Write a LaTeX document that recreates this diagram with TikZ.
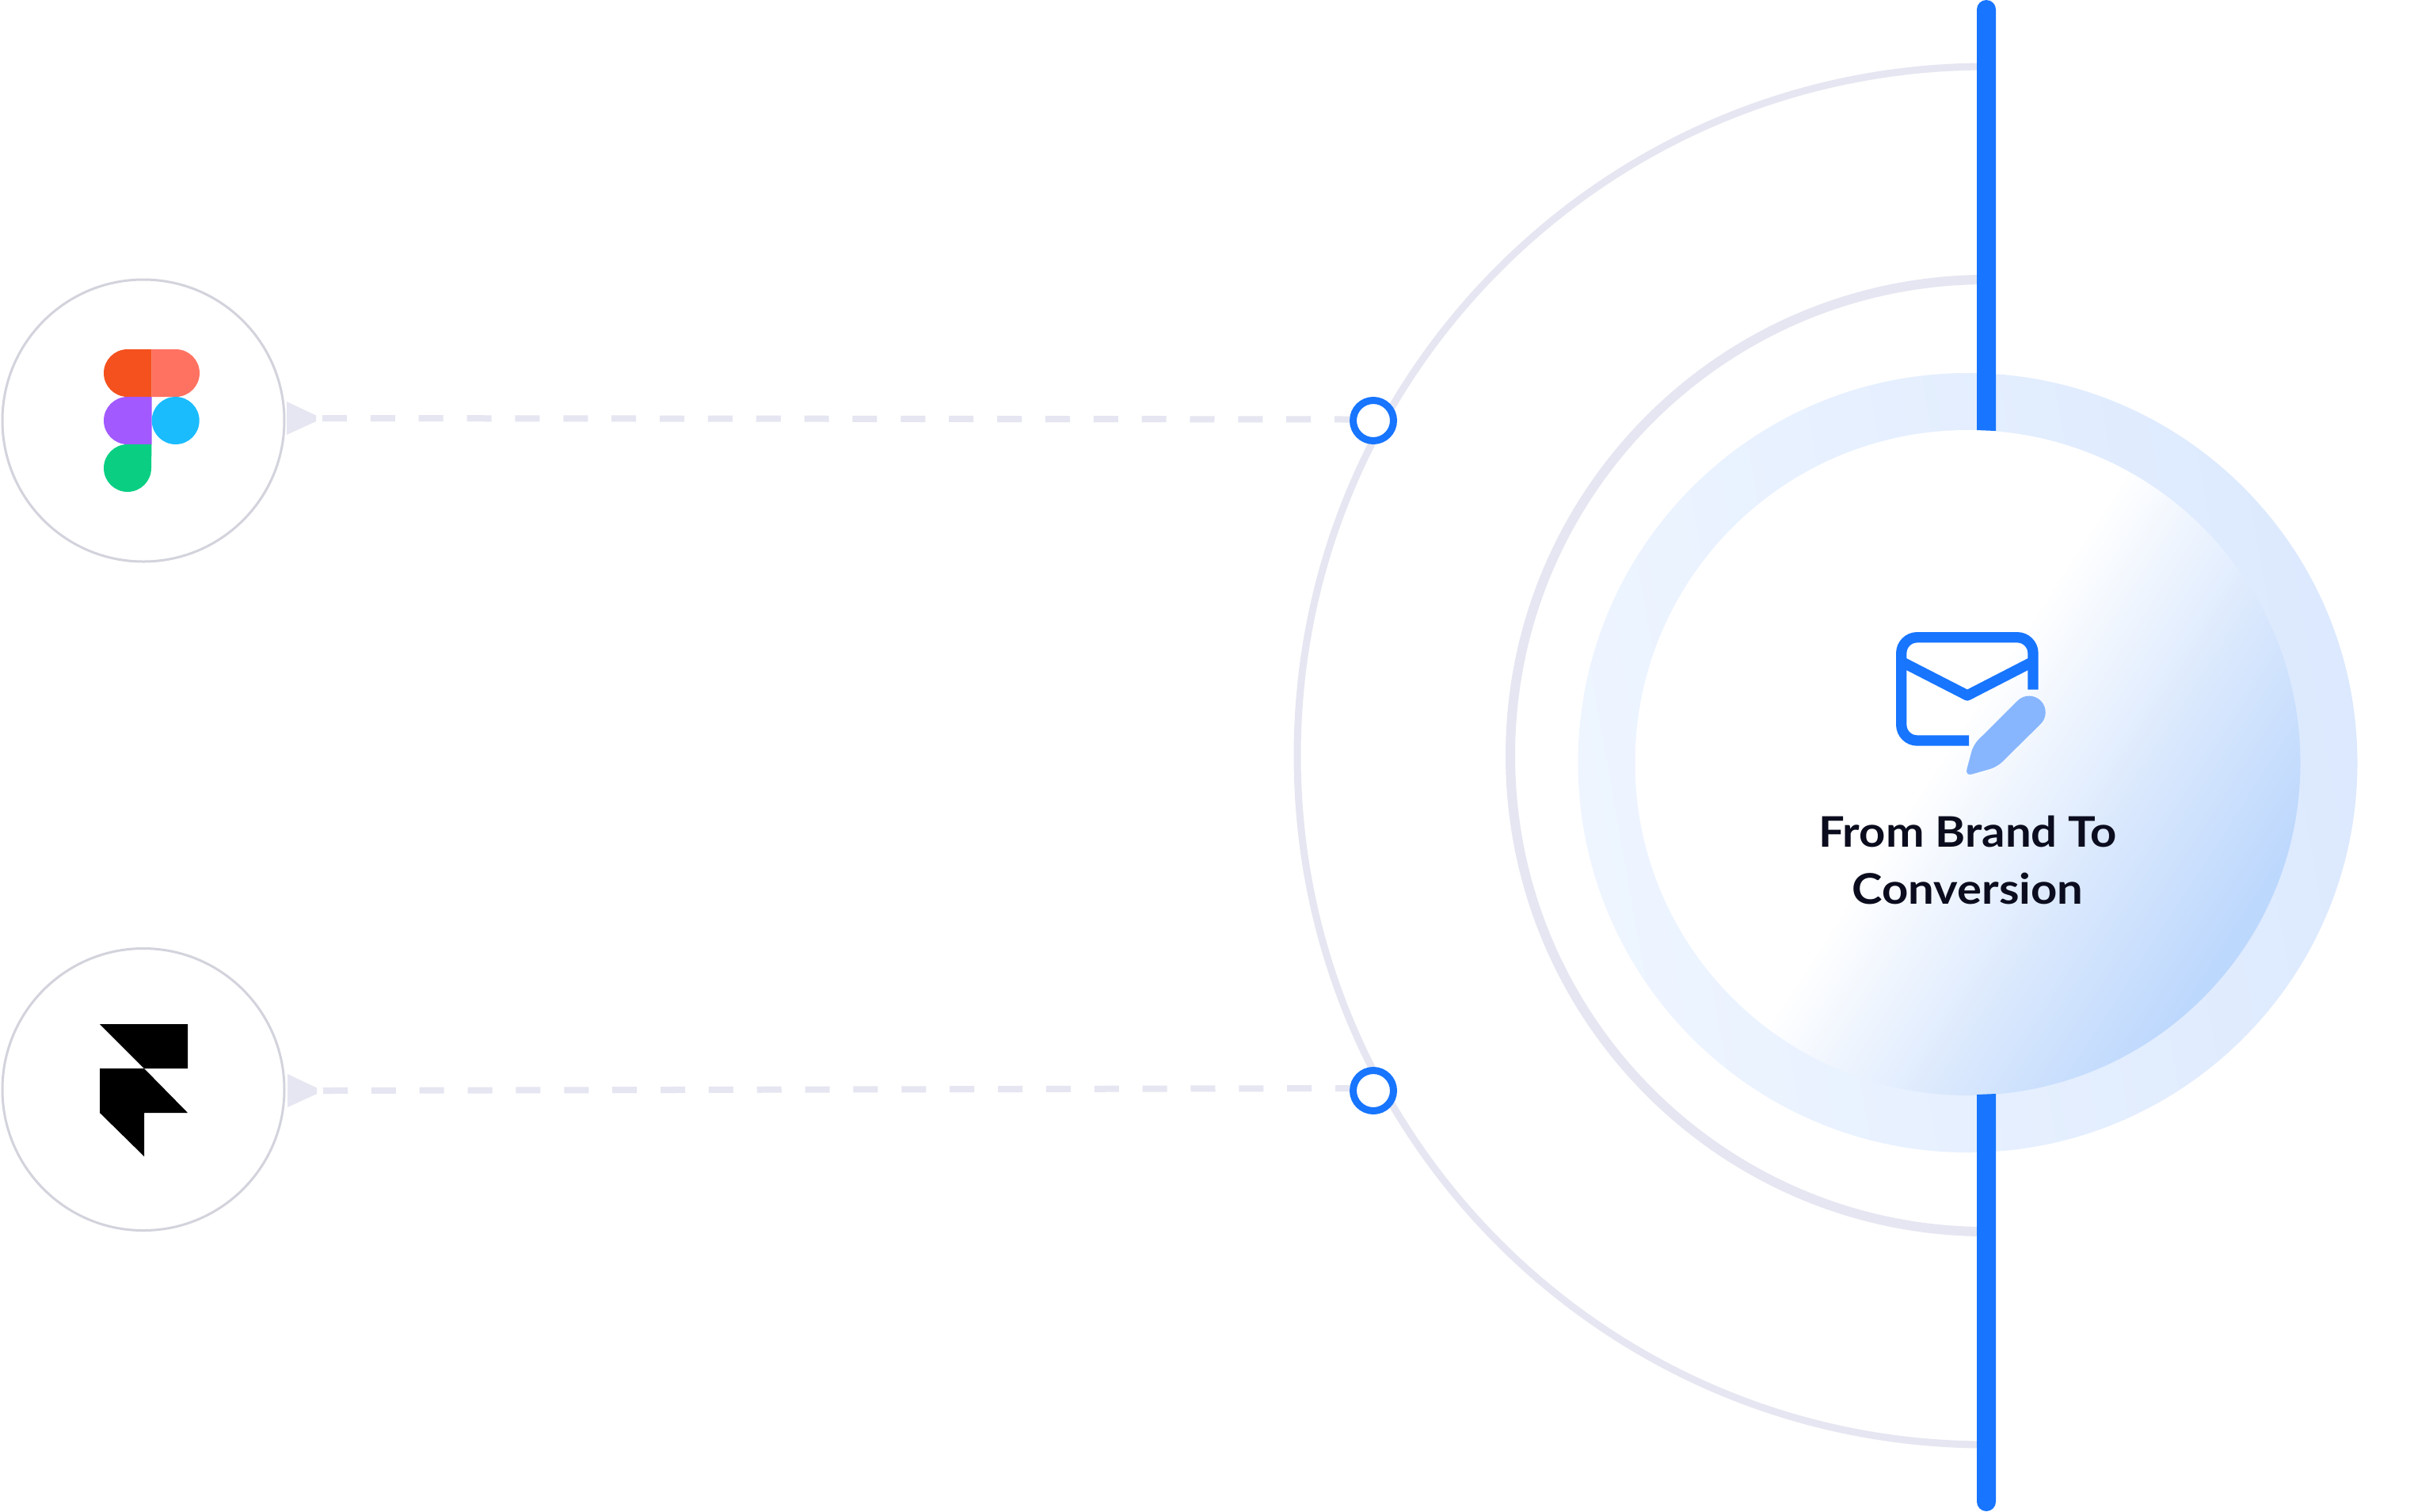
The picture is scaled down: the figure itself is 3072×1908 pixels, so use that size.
\documentclass[tikz,border=0pt]{standalone}
\usepackage{fontspec}
\setmainfont{Lato}[BoldFont={Lato Bold},BoldFeatures={FakeStretch=1.09}]
\definecolor{barblue}{HTML}{1775FF}
\definecolor{paleline}{HTML}{E5E6F1}
\definecolor{circleline}{HTML}{D2D3DC}
\definecolor{penblue}{HTML}{87B6FE}
\definecolor{inktext}{HTML}{0B0D1E}
\definecolor{figorange}{HTML}{F4511E}
\definecolor{figcoral}{HTML}{FF7262}
\definecolor{figpurple}{HTML}{A259FF}
\definecolor{figblue}{HTML}{1ABCFE}
\definecolor{figgreen}{HTML}{0ACF83}
\definecolor{ringa}{HTML}{EEF5FF}
\definecolor{ringb}{HTML}{DCE9FE}
\definecolor{glowa}{HTML}{D8E7FD}
\definecolor{glowb}{HTML}{BDD8FD}
\pgfdeclarehorizontalshading{ringshade}{100bp}{color(0bp)=(ringa); color(25bp)=(ringa); color(75bp)=(ringb); color(100bp)=(ringb)}
\pgfdeclarehorizontalshading{coreshade}{100bp}{color(0bp)=(white); color(48bp)=(white); color(62.7bp)=(glowa); color(74bp)=(glowb); color(100bp)=(glowb)}
\tikzset{
  toolcircle/.style={circle,draw=circleline,line width=1.5pt,fill=white,minimum size=178pt,inner sep=0pt,outer sep=0pt},
  bluering/.style={circle,draw=barblue,line width=4.5pt,fill=white,minimum size=25.5pt,inner sep=0pt,outer sep=0pt},
  conn/.style={draw=paleline,line width=4pt,dash pattern=on 15.5pt off 14.93pt,shorten >=2.25pt},
  halfarc/.style={draw=paleline},
  tiptri/.style={fill=paleline},
}
\begin{document}
\begin{tikzpicture}[x=0.5pt,y=-0.5pt]
\useasboundingbox (0,0) rectangle (3072,1908);
\fill[white] (0,0) rectangle (3072,1908);
% half circles
\draw[halfarc,line width=4.5pt] (2508,84) arc[start angle=-90,end angle=-270,radius=870];
\draw[halfarc,line width=6pt] (2508,353) arc[start angle=-90,end angle=-270,radius=601];
% central discs
\node[circle,minimum size=492pt,inner sep=0pt,outer sep=0pt,shading=ringshade,shading angle=10] (halo) at (2484.5,963) {};
\node[circle,minimum size=420pt,inner sep=0pt,outer sep=0pt,shading=coreshade,shading angle=-33] (core) at (2484.5,963) {};
% vertical bars
\fill[barblue] (2496,543) -- (2496,12) arc[start angle=-180,end angle=0,radius=12] -- (2520,544) -- cycle;
\fill[barblue] (2496,1382) -- (2496,1896) arc[start angle=180,end angle=0,radius=12] -- (2520,1381) -- cycle;
% tool circles
\node[toolcircle] (figma) at (181,531) {};
\node[toolcircle] (framer) at (181,1375.5) {};
% blue rings and connectors
\coordinate (starta) at (407,528);
\coordinate (startb) at (408,1377);
\node[bluering] (nodea) at (1734,531) {};
\node[bluering] (nodeb) at (1734,1377) {};
\draw[conn] (starta) -- ([yshift=0.75pt]nodea.west);
\draw[conn] (startb) -- ([yshift=1.5pt]nodeb.west);
% arrow triangles
\fill[tiptri] (362,507) -- (399,524.5) -- (399,532) -- (362,549) -- cycle;
\fill[tiptri] (363,1356) -- (400,1373.5) -- (400,1381) -- (363,1398) -- cycle;
% figma logo
\fill[figorange] (191.5,441) -- (161,441) arc[start angle=-90,end angle=-270,radius=30] -- (191.5,501) -- cycle;
\fill[figcoral] (191.5,441) -- (222,441) arc[start angle=-90,end angle=90,radius=30] -- (191.5,501) -- cycle;
\fill[figpurple] (191.5,501) -- (161,501) arc[start angle=-90,end angle=-270,radius=30] -- (191.5,561) -- cycle;
\fill[figblue] (221.7,531) circle[radius=30];
\fill[figgreen] (191.5,561) -- (161,561) arc[start angle=-90,end angle=-270,radius=30] -- (161,621) arc[start angle=90,end angle=0,radius=30] -- cycle;
% framer logo
\fill[black] (126,1293) -- (237,1293) -- (237,1349) -- (182,1349) -- cycle;
\fill[black] (126,1349) -- (182,1349) -- (237,1405) -- (182,1405) -- (182,1460) -- (126,1405) -- cycle;
% envelope
\draw[barblue,line width=6.65pt,rounded corners=10pt] (2486,935) -- (2400.7,935) -- (2400.7,804.7) -- (2567,804.7) -- (2567,870.7);
\draw[barblue,line width=6.65pt,line join=round] (2400.7,835.3) -- (2484,878) -- (2567,835.3);
% pencil
\fill[penblue] (2547.4,884.7) arc[start angle=-135,end angle=45,radius=20.7] -- (2535,955) [rounded corners=4.5pt] -- (2521.7,968.3) -- (2481,980) -- (2491.7,940) [sharp corners] -- (2505,927) -- cycle;
% label
\node[font=\fontsize{26.6}{36}\selectfont\bfseries,text=inktext,align=center,inner sep=0pt] (label) at (2484.5,1086) {From Brand To\\Conversion};
\end{tikzpicture}
\end{document}
